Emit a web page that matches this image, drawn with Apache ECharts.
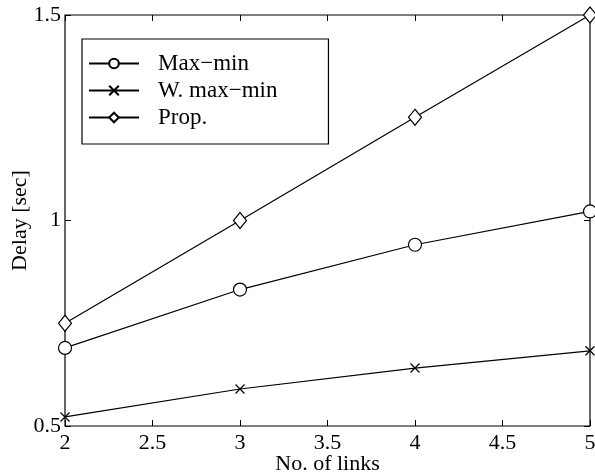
<!DOCTYPE html>
<html>
<head>
<meta charset="utf-8">
<script src="https://cdn.jsdelivr.net/npm/echarts@6/dist/echarts.min.js"></script>
<style>
  html, body { margin: 0; padding: 0; background: #fff; }
  #chart { width: 595px; height: 475px; }
</style>
</head>
<body>
<div id="chart"></div>
<script>
var links = [2, 3, 4, 5];
var maxMin = [0.69, 0.832, 0.941, 1.022];
var wMaxMin = [0.522, 0.59, 0.641, 0.683];
var prop = [0.75, 1.0, 1.251, 1.5];
var xTicks = [2, 2.5, 3, 3.5, 4, 4.5, 5];
var yTicks = [0.5, 1, 1.5];

var font = "Liberation Serif";
var crossPath = "path://M0,0L10,10M10,0L0,10";

function pairs(ys) {
  return links.map(function (x, i) { return [x, ys[i]]; });
}

var myChart = echarts.init(document.getElementById("chart"));

function mkSeries(name, ys, symbol, size) {
  return {
    name: name,
    type: "line",
    data: pairs(ys),
    symbol: symbol,
    symbolSize: size,
    showAllSymbol: true,
    lineStyle: { color: "#000", width: 1.2 },
    itemStyle: { color: "#fff", borderColor: "#000", borderWidth: 1.2 },
    emphasis: { disabled: true },
    animation: false,
    z: 3
  };
}

var option = {
  backgroundColor: "#fff",
  animation: false,
  grid: {
    left: 65, right: 5, top: 15, bottom: 49,
    outerBoundsMode: "none",
    show: true, borderColor: "#000", borderWidth: 1.2,
    backgroundColor: "transparent"
  },
  legend: {
    orient: "vertical",
    left: 82, top: 39,
    padding: [13, 51, 15, 6],
    itemGap: 4,
    itemWidth: 50,
    itemHeight: 12,
    borderColor: "#000",
    borderWidth: 1.2,
    backgroundColor: "#fff",
    textStyle: { fontFamily: font, fontSize: 23, color: "#000", padding: [0, 0, 0, 14] },
    data: ["Max\u2212min", "W. max\u2212min", "Prop."]
  },
  xAxis: [{
    type: "value",
    min: 2, max: 5, interval: 0.5,
    name: "No. of links",
    nameLocation: "middle",
    nameGap: 27,
    nameMoveOverlap: false,
    nameTextStyle: { fontFamily: font, fontSize: 22, color: "#000" },
    axisLine: { show: false },
    axisTick: { show: true, inside: true, length: 6, lineStyle: { color: "#000" } },
    axisLabel: {
      fontFamily: font, fontSize: 22, color: "#000", margin: 6,
      formatter: function (v) { return xTicks.indexOf(v) >= 0 ? String(v) : ""; }
    },
    splitLine: { show: false }
  }, {
    type: "value",
    position: "top",
    min: 2, max: 5, interval: 0.5,
    axisLine: { show: false },
    axisTick: { show: true, inside: true, length: 6, lineStyle: { color: "#000" } },
    axisLabel: { show: false },
    splitLine: { show: false }
  }],
  yAxis: [{
    type: "value",
    min: 0.5, max: 1.5, interval: 0.5,
    name: "Delay [sec]",
    nameLocation: "middle",
    nameGap: 34,
    nameMoveOverlap: false,
    nameTextStyle: { fontFamily: font, fontSize: 22, color: "#000" },
    axisLine: { show: false },
    axisTick: { show: true, inside: true, length: 6, lineStyle: { color: "#000" } },
    axisLabel: {
      fontFamily: font, fontSize: 22, color: "#000", margin: 4,
      formatter: function (v) { return yTicks.indexOf(v) >= 0 ? String(v) : ""; }
    },
    splitLine: { show: false }
  }, {
    type: "value",
    position: "right",
    min: 0.5, max: 1.5, interval: 0.5,
    axisLine: { show: false },
    axisTick: { show: true, inside: true, length: 6, lineStyle: { color: "#000" } },
    axisLabel: { show: false },
    splitLine: { show: false }
  }],
  series: [
    mkSeries("Max\u2212min", maxMin, "circle", 13),
    mkSeries("W. max\u2212min", wMaxMin, crossPath, 9),
    mkSeries("Prop.", prop, "diamond", [13, 16])
  ]
};
myChart.setOption(option);
</script>
</body>
</html>
